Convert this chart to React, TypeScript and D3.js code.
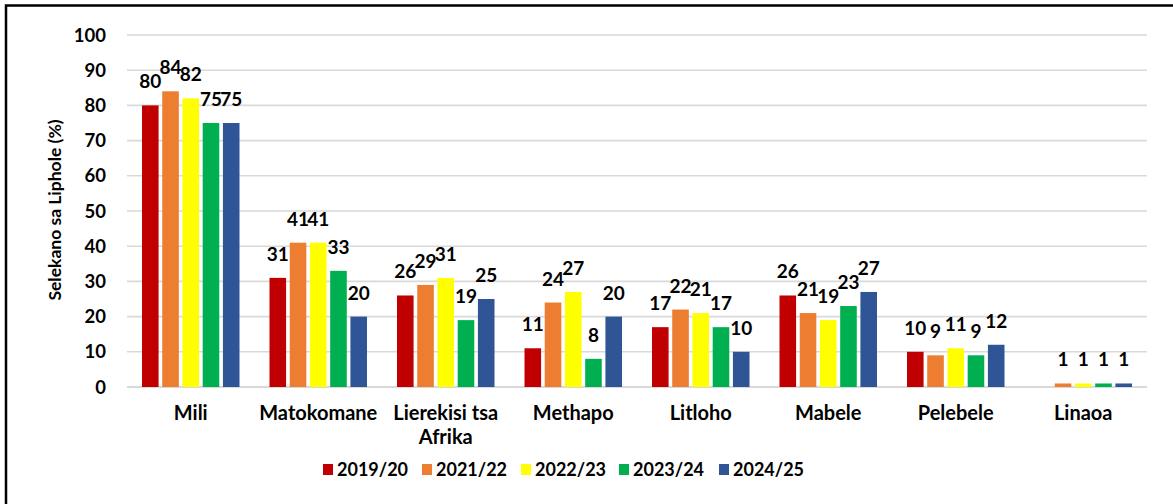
import React from "react";
import * as d3 from "d3";

const categories = ["Mili", "Matokomane", "Lierekisi tsa Afrika", "Methapo", "Litloho", "Mabele", "Pelebele", "Linaoa"];
const seriesNames = ["2019/20", "2021/22", "2022/23", "2023/24", "2024/25"];
const colors = ["#C00000", "#ED7D31", "#FFFF00", "#00B050", "#2F5597"];
const s2019: (number | null)[] = [80, 31, 26, 11, 17, 26, 10, null];
const s2021: (number | null)[] = [84, 41, 29, 24, 22, 21, 9, 1];
const s2022: (number | null)[] = [82, 41, 31, 27, 21, 19, 11, 1];
const s2023: (number | null)[] = [75, 33, 19, 8, 17, 23, 9, 1];
const s2024: (number | null)[] = [75, 20, 25, 20, 10, 27, 12, 1];
const seriesValues = [s2019, s2021, s2022, s2023, s2024];
const yTicks = [0, 10, 20, 30, 40, 50, 60, 70, 80, 90, 100];

const W = 1173;
const H = 504;
const FONT = "Lato, 'Open Sans', sans-serif";

export default function App() {
  const left = 127, right = 1147, top = 35, bottom = 387;
  const x0 = d3.scaleBand<string>().domain(categories).range([left, right]).paddingInner(0).paddingOuter(0);
  const gap = 15;
  const x1 = d3.scaleBand<string>().domain(seriesNames).range([gap, x0.bandwidth() - gap]).paddingInner(0.18).paddingOuter(0);
  const y = d3.scaleLinear().domain([0, 100]).range([bottom, top]);

  const legendX = [323, 422, 521, 619, 719];

  return (
    <svg width={W} height={H} style={{ position: "absolute", left: 0, top: 0, background: "#fff" }} fontFamily={FONT}>
      <rect x={0} y={0} width={W} height={H} fill="#fff" />
      <rect x={6} y={5.5} width={1180} height={520} fill="none" stroke="#000" strokeWidth={2.5} />
      {yTicks.map((t) => (
        <g key={t}>
          <line x1={left} x2={right} y1={y(t)} y2={y(t)} stroke="#d9d9d9" strokeWidth={t === 0 ? 2 : 1.6} />
          <text x={106} y={y(t)} dy="0.36em" textAnchor="end" fontSize={18.5} fontWeight={700} fill="#000">{t}</text>
        </g>
      ))}
      <text transform={`translate(61,210) rotate(-90)`} textAnchor="middle" fontSize={17.5} fontWeight={700} fill="#000">Selekano sa Liphole (%)</text>
      {categories.map((c, ci) => (
        <g key={c} transform={`translate(${x0(c)},0)`}>
          {seriesNames.map((s, si) => {
            const v = seriesValues[si][ci];
            if (v === null) return null;
            const bx = x1(s)!;
            const bw = x1.bandwidth();
            return (
              <g key={s}>
                <rect x={bx} y={y(v)} width={bw} height={y(0) - y(v)} fill={colors[si]} />
                <text x={bx + bw / 2} y={y(v) - 17} textAnchor="middle" fontSize={19} fontWeight={700} fill="#000">{v}</text>
              </g>
            );
          })}
        </g>
      ))}
      {categories.map((c) => {
        const cx = x0(c)! + x0.bandwidth() / 2;
        const lines = c === "Lierekisi tsa Afrika" ? ["Lierekisi tsa", "Afrika"] : [c];
        return (
          <text key={c} x={cx} y={420} textAnchor="middle" fontSize={20} fontWeight={700} fill="#000">
            {lines.map((l, i) => (
              <tspan key={i} x={cx} dy={i === 0 ? 0 : 24}>{l}</tspan>
            ))}
          </text>
        );
      })}
      {seriesNames.map((s, i) => (
        <g key={s}>
          <rect x={legendX[i]} y={464} width={10} height={11} fill={colors[i]} />
          <text x={legendX[i] + 14} y={469.5} dy="0.36em" fontSize={18} fontWeight={700} fill="#000">{s}</text>
        </g>
      ))}
    </svg>
  );
}
